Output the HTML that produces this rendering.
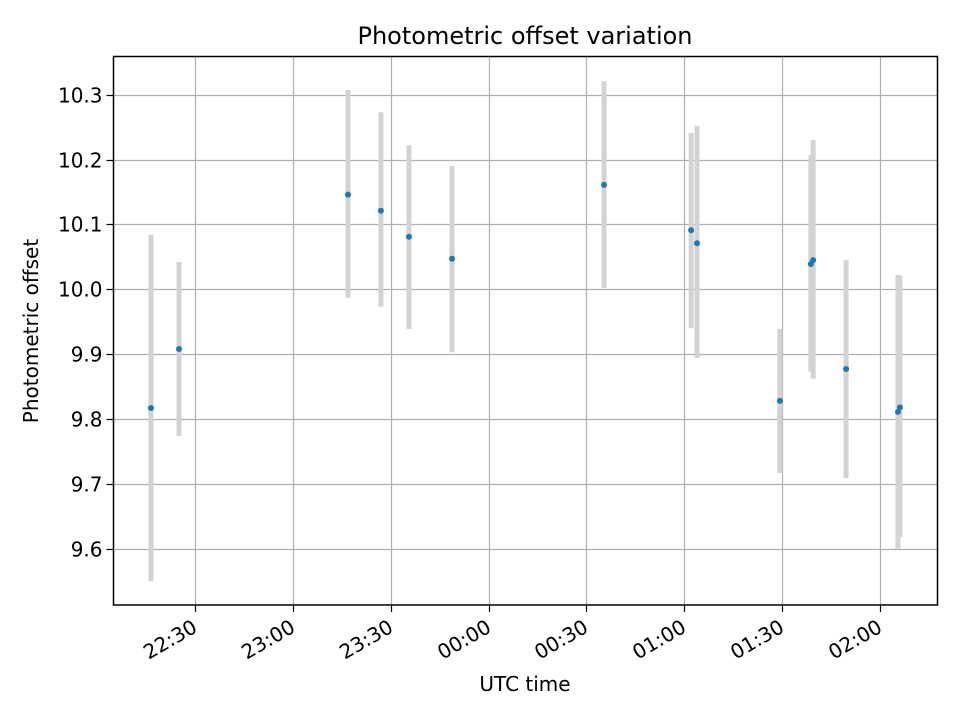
<!DOCTYPE html>
<html><head><meta charset="utf-8"><style>
body{margin:0;background:#fff;}
svg text{font-family:"DejaVu Sans","Liberation Sans",sans-serif;fill:#000;}
</style></head><body>
<svg id="chart" width="960" height="720" xmlns="http://www.w3.org/2000/svg">
<rect width="960" height="720" fill="#fff"/>
<g id="grid"></g><g id="bars"></g><g id="pts"></g><g id="ticks"></g>
<rect x="113.5" y="56.5" width="824" height="548.5" fill="none" stroke="#000" stroke-width="1.5"/>
<text x="525" y="44" font-size="24" text-anchor="middle">Photometric offset variation</text>
<text x="525" y="691" font-size="20" text-anchor="middle">UTC time</text>
<text x="38" y="331" font-size="20" text-anchor="middle" transform="rotate(-90 38 331)">Photometric offset</text>
</svg>
<script>
// minutes after 22:00 UTC
const times=[16.5,25.1,76.9,87.0,95.6,108.8,155.4,182.1,183.9,209.3,218.8,219.5,229.6,245.5,246.1];
const values=[9.817,9.908,10.146,10.121,10.081,10.047,10.161,10.091,10.071,9.828,10.039,10.045,9.877,9.811,9.818];
const errLow=[9.550,9.774,9.987,9.973,9.939,9.903,10.002,9.940,9.894,9.717,9.873,9.862,9.709,9.600,9.618];
const errHigh=[10.084,10.042,10.307,10.273,10.222,10.190,10.321,10.241,10.252,9.939,10.207,10.230,10.045,10.022,10.021];
const yTicks=[9.6,9.7,9.8,9.9,10.0,10.1,10.2,10.3];
const xTickMinutes=[30,60,90,120,150,180,210,240];
const xTickLabels=["22:30","23:00","23:30","00:00","00:30","01:00","01:30","02:00"];

const L=113.5,R=937.5,T=56.5,B=605;
const xs=m=>195+(m-30)*97.86/30;
const ys=v=>94.7+(10.3-v)*648.6;
const NS="http://www.w3.org/2000/svg";
function mk(tag,attrs,parent){const e=document.createElementNS(NS,tag);for(const k in attrs)e.setAttribute(k,attrs[k]);document.getElementById(parent).appendChild(e);return e;}

yTicks.forEach((v,i)=>{
  const y=Math.round(ys(v))+0.5;
  const g=mk('line',{x1:L,x2:R,y1:y,y2:y,stroke:'#b0b0b0','stroke-width':1.2},'grid');
  
  
  const t=mk('line',{x1:L-7,x2:L,y1:y,y2:y,stroke:'#000','stroke-width':1.2},'ticks');
  
  
  const lb=mk('text',{x:L-11,y:y+7,'font-size':20,'text-anchor':'end'},'ticks');
  
  
  lb.textContent=v.toFixed(1);
});
xTickMinutes.forEach((m,i)=>{
  const x=Math.round(xs(m))+0.5;
  const g=mk('line',{x1:x,x2:x,y1:T,y2:B,stroke:'#b0b0b0','stroke-width':1.2},'grid');
  
  
  const t=mk('line',{x1:x,x2:x,y1:B,y2:B+7,stroke:'#000','stroke-width':1.2},'ticks');
  
  
  const ax=x+3, ay=B+26;
  const lb=mk('text',{x:ax,y:ay,'font-size':20,'text-anchor':'end',transform:`rotate(-30 ${ax} ${ay})`},'ticks');
  
  
  lb.textContent=xTickLabels[i];
});
times.forEach((m,i)=>{
  const x=xs(m);
  const b=mk('line',{x1:x,x2:x,y1:ys(errHigh[i]),y2:ys(errLow[i]),stroke:'#d3d3d3','stroke-width':5},'bars');
  
  
  const c=mk('circle',{cx:x,cy:ys(values[i]),r:3,fill:'#1f77b4'},'pts');
  
  
});
</script>
</body></html>
